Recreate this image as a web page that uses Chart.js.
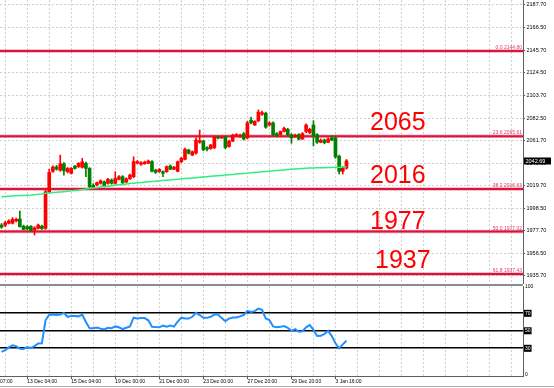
<!DOCTYPE html>
<html><head><meta charset="utf-8">
<script src="https://cdn.jsdelivr.net/npm/chart.js@4/dist/chart.umd.min.js"></script>
<style>
html,body{margin:0;padding:0;background:#fff;width:554px;height:388px;overflow:hidden}
canvas{position:absolute;left:0}
#c1{top:0}
#c2{top:284px}
</style></head><body>
<canvas id="c1" width="554" height="284"></canvas>
<canvas id="c2" width="554" height="104"></canvas>
<script>
// ---- data ----
const OPEN  = [1983,1982.8,1984.7,1984.7,1986.8,1988.7,1982,1981.5,1981.8,1978.5,1980,1982,1980,2014,2033,2037,2034,2040,2032.6,2031.1,2037.8,2037.3,2036.7,2040.4,2035.7,2020,2020.2,2021.8,2023.3,2021.8,2024.9,2021.8,2025.5,2028,2023,2026,2028,2040.5,2039.5,2040,2040.5,2042,2034,2032.7,2032.6,2032.6,2038,2034.9,2033,2041.9,2044.1,2052.8,2048,2050,2060,2061,2055,2054,2055,2065,2064,2065,2056,2061,2066,2065.2,2068,2064,2080.5,2076,2080,2086,2087,2076,2078,2068,2067,2070,2072,2067,2065,2067,2063,2070,2069,2076,2067,2060,2062,2060,2064,2064,2047,2033,2036];
const HIGH  = [1984.5,1986.5,1988,1990,1989.5,1996,1983,1982.5,1982.5,1981.5,1984,1983,2016,2035,2038,2038.5,2048,2041,2036.5,2036.5,2038.5,2041,2045,2041.5,2036.5,2021.5,2023,2025,2024,2026.5,2026,2032.6,2029,2029,2027,2030.5,2046.5,2043,2042,2042.5,2043.5,2043,2035,2035.5,2033.5,2038,2039,2037.5,2042.5,2046,2054.5,2053.5,2052,2064,2071.3,2062,2056,2058,2066,2066,2066,2066,2062,2067.5,2068,2067.5,2069,2079.5,2083.4,2080,2090,2089,2088,2079,2079,2069,2070.5,2074,2073,2068,2067.5,2068,2069,2077,2073,2080,2068,2063,2063,2064,2066,2066,2048,2037.5,2044];
const LOW   = [1980,1981.5,1984,1984,1986,1981,1978.5,1978.5,1977,1973.8,1979.5,1979,1979,2013,2032,2034,2033,2029.5,2031.5,2030.5,2035,2036.5,2036,2027.9,2017.5,2017,2019.5,2021,2018.5,2021,2021,2021,2025,2021,2022.5,2025.5,2027,2040,2038.5,2039.5,2040,2032.5,2031,2032,2027.9,2032,2034.5,2034.5,2032.5,2041,2043.5,2049,2047.5,2049,2059,2052,2052,2053.5,2054,2063,2063.5,2054,2055.5,2060.5,2065.5,2064.5,2062,2063,2077,2075.5,2079,2085,2073,2075,2066,2065,2066.5,2069.5,2066,2059,2064.5,2062,2062.5,2069,2068,2056.5,2059,2059.5,2058.5,2059.5,2061.5,2045,2030.5,2030.5,2035];
const CLOSE = [1981,1985.2,1986.9,1988.4,1988.4,1981.6,1979,1979.5,1978,1980.5,1983,1979.7,2014,2032,2037,2035,2040,2033.5,2035.7,2035.7,2035.7,2040.4,2041.9,2035.7,2018.7,2018,2022.4,2024.2,2019.3,2025.5,2021.8,2026.4,2027.9,2022.5,2026,2029.5,2042,2042,2041,2041.5,2042.5,2033,2032,2034.8,2031.1,2037.3,2034.9,2036.7,2041.9,2045,2053.4,2049.7,2051.2,2062,2061.5,2053,2053.5,2057.4,2065,2063.8,2065,2055,2061,2066.7,2067.3,2066.5,2063,2078,2078,2079.5,2088,2087.5,2074,2078,2067,2066,2070,2073,2067,2064,2066.7,2063,2068,2076,2072,2066,2060,2062,2059.5,2063,2062,2046.3,2033,2036,2042.69];
const MA    = [2009.4,2009.6,2009.8,2010,2010.2,2010.4,2010.6,2010.8,2011,2011.3,2011.6,2012,2012.5,2012.9,2013.2,2013.5,2013.8,2014.1,2014.4,2014.8,2015.2,2015.6,2016,2016.5,2017,2017.4,2017.8,2018.3,2018.8,2019.2,2019.6,2020,2020.4,2020.8,2021.2,2021.6,2022,2022.3,2022.6,2022.9,2023.2,2023.5,2023.8,2024.1,2024.4,2024.7,2025,2025.3,2025.6,2025.9,2026.2,2026.5,2026.8,2027.1,2027.4,2027.7,2028,2028.3,2028.6,2028.9,2029.2,2029.5,2029.8,2030.1,2030.4,2030.7,2031,2031.3,2031.6,2031.9,2032.2,2032.5,2032.8,2033.1,2033.4,2033.7,2034,2034.3,2034.6,2034.9,2035.2,2035.4,2035.6,2035.8,2036,2036.1,2036.2,2036.3,2036.4,2036.5,2036.6,2036.7,2036.8,2036.9,2037];
const RSI   = [26,28,31,33.5,32.5,29.5,29.2,31.5,30.5,32.5,35.5,35.7,62,68.3,68.5,68.2,68.5,70.5,66,67,66.8,66.5,68.5,60,53,53,53.8,52.5,51.5,53.5,53,55,54,52,53.5,55,65,64,64.5,64.5,62,54.7,54.3,54,56,54.7,56,54.7,60.5,65,64,64,66,70.5,68,64.8,64.8,66,68.5,68.5,64.5,61,64,65.2,65.2,66.5,68,72.8,71.5,72.5,75.4,74,64,62.4,55,54,54.5,55.5,53.5,50,52,49,49.5,54,56.5,51,44,44.3,46.5,49.8,44,35.7,30,34.5,38.7];
const FIB_PCT    = ['0.0','23.6','38.2','50.0','61.8'];
const FIB_VALUES = [2144.80, 2065.61, 2016.63, 1977.02, 1937.43];
const BIG_TEXT   = ['2065','2016','1977','1937'];
const BIG_LEVEL  = [2065.61, 2016.63, 1977.02, 1937.43];
const PRICE_TICKS = [1935.7,1956.5,1977.7,1998.5,2019.7,2040.5,2061.7,2082.5,2103.7,2124.5,2145.7,2166.5,2187.7];
const RSI_TICKS   = [0,30,50,70,100];
const RSI_LEVELS  = [30,50,70];
const X_LABEL_BARS  = [-5,7,19,31,43,55,67,79,91];
const X_LABEL_TEXTS = ['11 Dec 07:00','13 Dec 04:00','15 Dec 04:00','19 Dec 00:00','21 Dec 00:00','23 Dec 00:00','27 Dec 20:00','29 Dec 20:00','3 Jan 16:00'];

// ---- layout constants ----
const XMIN = -0.41, XMAX = 142.1;
const YMIN = 1928.25, YMAX = 2192.2;
const RMIN = -1.66, RMAX = 101.2;
const FONT = 'Liberation Sans';
const XGRID = [];
for (let v = -5; v <= XMAX; v += 6) XGRID.push(v);

const idx = OPEN.map((_, i) => i);
const UP = '#ff0000', DOWN = '#008000';
const candleColors = idx.map(i => CLOSE[i] >= OPEN[i] ? UP : DOWN);

function zeroPad(s){ s.paddingTop = 0; s.paddingBottom = 0; s.paddingLeft = 0; s.paddingRight = 0; }

const overlay1 = {
  id: 'overlay1',
  beforeDatasetsDraw(chart) {
    const {ctx, chartArea: a, scales: {y}} = chart;
    ctx.save();
    FIB_VALUES.forEach(v => {
      const py = y.getPixelForValue(v);
      ctx.strokeStyle = 'rgba(220,20,60,0.35)';
      ctx.lineWidth = 3.5;
      ctx.beginPath(); ctx.moveTo(a.left, py); ctx.lineTo(a.right, py); ctx.stroke();
      ctx.strokeStyle = '#DC143C';
      ctx.lineWidth = 2;
      ctx.beginPath(); ctx.moveTo(a.left, py); ctx.lineTo(a.right, py); ctx.stroke();
    });
    ctx.restore();
  },
  afterDatasetsDraw(chart) {
    const {ctx, chartArea: a, scales: {y}} = chart;
    ctx.save();
    ctx.fillStyle = '#e0406a';
    ctx.font = '5px "' + FONT + '"';
    ctx.textAlign = 'right';
    ctx.textBaseline = 'alphabetic';
    FIB_VALUES.forEach((v, k) => {
      const py = y.getPixelForValue(v);
      ctx.fillText(FIB_PCT[k] + ' ' + v.toFixed(2), a.right - 1, py - 2);
    });
    ctx.fillStyle = '#ff0000';
    ctx.font = '25px "' + FONT + '"';
    ctx.textAlign = 'left';
    const bx = [370, 370, 370, 375], off = [6, 6, 3, 6];
    BIG_TEXT.forEach((t, k) => {
      ctx.fillText(t, bx[k], y.getPixelForValue(BIG_LEVEL[k]) - off[k]);
    });
    ctx.restore();
  },
  afterDraw(chart) {
    const {ctx, chartArea: a, scales: {y}} = chart;
    const last = CLOSE[CLOSE.length - 1];
    const py = y.getPixelForValue(last);
    ctx.save();
    ctx.fillStyle = '#000';
    ctx.fillRect(a.right + 1, Math.round(py) - 3.5, 27, 7);
    ctx.fillStyle = '#fff';
    ctx.font = '5.5px "' + FONT + '"';
    ctx.textAlign = 'left';
    ctx.textBaseline = 'middle';
    ctx.fillText(last.toFixed(2), a.right + 2.5, Math.round(py));
    ctx.restore();
  }
};

const overlay2 = {
  id: 'overlay2',
  afterDraw(chart) {
    const {ctx, chartArea: a} = chart;
    ctx.save();
    ctx.fillStyle = '#8c8c8c';
    ctx.fillRect(0, 0, a.right, 2);
    ctx.fillStyle = '#b0b0b0';
    ctx.fillRect(0, 102, 554, 1);
    ctx.restore();
  }
};

const gridDash = [2, 2];

new Chart(document.getElementById('c1'), {
  type: 'bar',
  data: {
    datasets: [
      { type: 'bar', data: idx.map(i => ({x: i, y: [LOW[i], HIGH[i]]})), backgroundColor: candleColors,
        barThickness: 1, grouped: false, order: 3 },
      { type: 'bar', data: idx.map(i => ({x: i, y: [OPEN[i], CLOSE[i]]})), backgroundColor: candleColors,
        barThickness: 3, minBarLength: 1, grouped: false, order: 2 },
      { type: 'line', data: idx.map(i => ({x: i, y: MA[i]})), borderColor: '#2cf07c', borderWidth: 1.5,
        pointRadius: 0, tension: 0, order: 1 }
    ]
  },
  options: {
    responsive: false, animation: false, events: [],
    layout: { padding: 0 },
    plugins: { legend: { display: false }, tooltip: { enabled: false } },
    scales: {
      x: {
        type: 'linear', min: XMIN, max: XMAX, offset: false,
        afterBuildTicks: s => { s.ticks = XGRID.map(v => ({value: v})); },
        afterFit: s => { s.height = 0; zeroPad(s); },
        ticks: { display: false },
        grid: { offset: false, color: '#d0d0d0', lineWidth: 1, drawTicks: false },
        border: { display: false, dash: gridDash }
      },
      y: {
        position: 'right', min: YMIN, max: YMAX,
        afterBuildTicks: s => { s.ticks = PRICE_TICKS.map(v => ({value: v})); },
        afterFit: s => { s.width = 31; zeroPad(s); },
        ticks: { font: { family: FONT, size: 5.5 }, color: '#000', padding: 1.5,
                 callback: v => v.toFixed(2) },
        grid: { color: '#d0d0d0', lineWidth: 1, drawTicks: true, tickLength: 2, tickColor: '#555', tickBorderDash: [] },
        border: { display: true, color: '#606060', width: 1, dash: gridDash }
      }
    }
  },
  plugins: [overlay1]
});

new Chart(document.getElementById('c2'), {
  type: 'line',
  data: {
    datasets: [
      { data: idx.map(i => ({x: i, y: RSI[i]})), borderColor: '#1E90FF', borderWidth: 2,
        pointRadius: 0, tension: 0 }
    ]
  },
  options: {
    responsive: false, animation: false, events: [],
    layout: { padding: { top: 2, left: 0, right: 0, bottom: 0 } },
    plugins: { legend: { display: false }, tooltip: { enabled: false } },
    scales: {
      x: {
        type: 'linear', min: XMIN, max: XMAX, offset: false,
        afterBuildTicks: s => { s.ticks = XGRID.map(v => ({value: v})); },
        afterFit: s => { s.height = 12; zeroPad(s); },
        ticks: {
          autoSkip: false, maxRotation: 0, minRotation: 0, align: 'start', padding: 0,
          font: { family: FONT, size: 5 }, color: '#000',
          callback: v => { const k = X_LABEL_BARS.indexOf(v); return k >= 0 ? X_LABEL_TEXTS[k] : ''; }
        },
        grid: { offset: false, color: '#d0d0d0', lineWidth: 1, drawTicks: true, tickLength: 3,
                tickColor: c => (c.tick && X_LABEL_BARS.includes(c.tick.value)) ? '#555' : 'rgba(0,0,0,0)',
                tickBorderDash: [] },
        border: { display: true, color: '#606060', width: 1, dash: gridDash }
      },
      y: {
        position: 'right', min: RMIN, max: RMAX,
        afterBuildTicks: s => { s.ticks = RSI_TICKS.map(v => ({value: v})); },
        afterFit: s => { s.width = 31; zeroPad(s); },
        ticks: {
          font: { family: FONT, size: 5 }, padding: 2,
          color: c => RSI_LEVELS.includes(c.tick.value) ? '#fff' : '#000',
          showLabelBackdrop: c => RSI_LEVELS.includes(c.tick.value),
          backdropColor: '#000', backdropPadding: { top: 0.5, bottom: 0.5, left: 1, right: 1 },
          callback: v => String(v)
        },
        grid: { color: c => RSI_LEVELS.includes(c.tick.value) ? '#000' : 'rgba(0,0,0,0)',
                lineWidth: 1.6, drawTicks: false },
        border: { display: true, color: '#606060', width: 1, dash: [] }
      }
    }
  },
  plugins: [overlay2]
});
</script>
</body></html>
